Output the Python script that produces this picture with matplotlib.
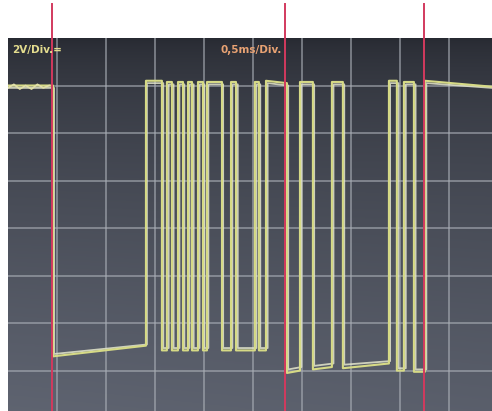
import numpy as np
import matplotlib
matplotlib.use("Agg")
import matplotlib.pyplot as plt

# oscilloscope settings: 0.5 ms/div horizontally, 2 V/div vertically
MS_PER_DIV = 0.5
V_PER_DIV = 2.0

# trace A (yellow): transition times in ms, level at start/end of each segment in V
edges_a = [0.459, 1.408, 1.571, 1.622, 1.673, 1.735, 1.786, 1.837, 1.878,
           1.939, 1.990, 2.031, 2.184, 2.276, 2.327, 2.520, 2.561, 2.633,
           2.847, 2.980, 3.112, 3.306, 3.418, 3.888, 3.969, 4.041, 4.143,
           4.255]
lvl_start_a = [14.0, 2.60, 14.2, 2.85, 14.15, 2.85, 14.15, 2.85, 14.15,
               2.85, 14.15, 2.85, 14.15, 2.85, 14.15, 2.85, 14.15, 2.85,
               14.2, 1.90, 14.15, 2.05, 14.15, 2.10, 14.2, 2.00, 14.15,
               1.95, 14.2]
lvl_end_a = [14.0, 3.05, 14.2, 2.85, 14.15, 2.85, 14.15, 2.85, 14.15,
             2.85, 14.15, 2.85, 14.15, 2.85, 14.15, 2.85, 14.15, 2.85,
             14.1, 2.00, 14.15, 2.15, 14.15, 2.30, 14.2, 2.00, 14.15,
             1.95, 13.95]

# trace B (pale ghost frame), slightly shifted edges
edges_b = [0.470, 1.418, 1.585, 1.640, 1.690, 1.750, 1.800, 1.852, 1.895,
           1.955, 2.005, 2.045, 2.196, 2.290, 2.345, 2.535, 2.575, 2.650,
           2.860, 2.995, 3.125, 3.322, 3.432, 3.900, 3.985, 4.060, 4.160,
           4.270]
lvl_start_b = [13.9, 2.70, 14.1, 2.95, 14.05, 2.95, 14.05, 2.95, 14.05,
               2.95, 14.05, 2.95, 14.05, 2.95, 14.05, 2.95, 14.05, 2.95,
               14.1, 2.05, 14.05, 2.20, 14.05, 2.25, 14.1, 2.10, 14.05,
               2.05, 14.1]
lvl_end_b = [13.9, 3.10, 14.1, 2.95, 14.05, 2.95, 14.05, 2.95, 14.05,
             2.95, 14.05, 2.95, 14.05, 2.95, 14.05, 2.95, 14.05, 2.95,
             14.0, 2.15, 14.05, 2.30, 14.05, 2.40, 14.1, 2.10, 14.05,
             2.05, 13.9]

# noisy idle level at the left of the screen
idle_t = [0.00, 0.06, 0.12, 0.18, 0.24, 0.30, 0.36, 0.42]
idle_v = [13.9, 14.05, 13.85, 14.0, 13.85, 14.05, 13.9, 14.0]

cursor_ms = [0.449, 2.827, 4.245]

X_MAX = 4.94
Y_MIN, Y_MAX = 0.3, 16.0


def build_trace(edges, v0, v1, t_end):
    t = [0.0]
    v = [v0[0]]
    bounds = list(edges) + [t_end]
    for i, te in enumerate(bounds):
        t.append(te)
        v.append(v1[i])
        if i < len(edges):
            t.append(te)
            v.append(v0[i + 1])
    return np.array(t), np.array(v)


fig = plt.figure(figsize=(4.92, 4.11), dpi=100)
fig.patch.set_facecolor("white")
ax = fig.add_axes([8 / 492, 0, 1 - 8 / 492, (411 - 38) / 411])

# screen background gradient (dark top, lighter bottom)
ny, nx = 200, 200
yy, xx = np.mgrid[0:1:ny * 1j, 0:1:nx * 1j]
top = np.array([0.15, 0.16, 0.19])
bot = np.array([0.37, 0.39, 0.44])
w = np.clip(yy ** 0.6 - 0.08 * xx * yy, 0, 1)[..., None]
img = top * (1 - w) + bot * w
ax.imshow(img, extent=[0, X_MAX, Y_MIN, Y_MAX], aspect="auto", zorder=0)

for gx in np.arange(MS_PER_DIV, X_MAX, MS_PER_DIV):
    ax.axvline(gx, color="#a9aeb6", lw=1.1, alpha=0.75, zorder=1)
for gy in np.arange(V_PER_DIV, Y_MAX, V_PER_DIV):
    ax.axhline(gy, color="#a9aeb6", lw=1.1, alpha=0.75, zorder=1)

tb, vb = build_trace(edges_b, lvl_start_b, lvl_end_b, X_MAX)
ax.plot(tb, vb, color="#e4e6cc", lw=1.3, alpha=0.85, zorder=2)
ta, va = build_trace(edges_a, lvl_start_a, lvl_end_a, X_MAX)
ax.plot(ta, va, color="#d6da86", lw=1.5, zorder=3)
ax.plot(idle_t, idle_v, color="#e2e0a8", lw=1.2, zorder=3)

for cx in cursor_ms:
    ax.axvline(cx, ymin=0, ymax=(411 - 4) / 373, color="#d23a5e",
               lw=1.4, clip_on=False, zorder=4)

ax.text(0.04, 15.5, "2V/Div.=", color="#e3dc8e", fontsize=7.5,
        fontweight="bold", va="center", ha="left", zorder=5)
ax.text(2.17, 15.5, "0,5ms/Div.", color="#e8a273", fontsize=7.5,
        fontweight="bold", va="center", ha="left", zorder=5)

ax.set_xlim(0, X_MAX)
ax.set_ylim(Y_MIN, Y_MAX)
ax.set_xticks([])
ax.set_yticks([])
for s in ax.spines.values():
    s.set_visible(False)

fig.savefig("out.png", dpi=100)
